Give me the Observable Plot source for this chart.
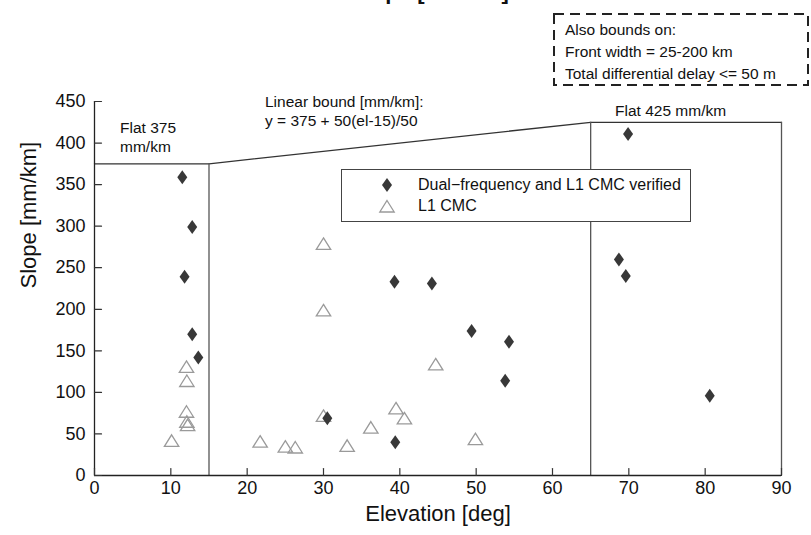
<!DOCTYPE html>
<html><head><meta charset="utf-8">
<script src="https://cdn.jsdelivr.net/npm/d3@7"></script>
<script src="https://cdn.jsdelivr.net/npm/@observablehq/plot@0.6"></script>
<style>
html,body{margin:0;padding:0;background:#fff;}
#wrap{position:relative;width:811px;height:535px;overflow:hidden;font-family:"Liberation Sans",Arial,Helvetica,sans-serif;color:#111;}
#chart{position:absolute;left:0;top:0;}
.ov{position:absolute;white-space:nowrap;}
#title{left:0;width:860px;text-align:center;top:-19px;font-size:22px;font-weight:bold;line-height:22px;}
#bounds{left:553px;top:13px;width:256px;height:73px;}
#bounds svg{position:absolute;left:0;top:0;}
#bounds .t{position:absolute;left:12px;font-size:15.5px;line-height:18px;}
#legend{left:341px;top:169px;width:348px;height:51px;border:1.2px solid #444;background:#fff;}
#legend svg{position:absolute;left:0;top:0;}
#legend .t{position:absolute;left:76px;font-size:16px;line-height:18px;}
.anno{font-size:15.5px;line-height:19px;}
</style></head><body>
<div id="wrap">
  <div id="chart"></div>
  <div class="ov" id="title">Slope [mm/km]</div>
  <div class="ov" id="bounds">
    <svg width="256" height="73"><rect x="1" y="1" width="254" height="71" fill="none" stroke="#222" stroke-width="2" stroke-dasharray="10,6"></rect></svg>
    <div class="t" style="top:8px">Also bounds on:</div>
    <div class="t" style="top:30px">Front width = 25-200 km</div>
    <div class="t" style="top:52px">Total differential delay &lt;= 50 m</div>
  </div>
  <div class="ov anno" style="left:120px;top:118px;">Flat 375<br>mm/km</div>
  <div class="ov anno" style="left:265px;top:92px;">Linear bound [mm/km]:<br>y = 375 + 50(el-15)/50</div>
  <div class="ov anno" style="left:615px;top:101px;">Flat 425 mm/km</div>
  <div class="ov" id="legend">
    <svg width="348" height="51">
      <path d="M45,8 L50,15 L45,22 L40,15 Z" fill="#383838"></path>
      <path d="M45,30.5 L52.2,42 L37.8,42 Z" fill="none" stroke="#9a9a9a" stroke-width="1.3"></path>
    </svg>
    <div class="t" style="top:6px">Dual−frequency and L1 CMC verified</div>
    <div class="t" style="top:27px">L1 CMC</div>
  </div>
</div>
<script>
// Dual-frequency and L1 CMC verified (filled diamonds)
const dualEl    = [11.5, 12.8, 11.8, 12.8, 13.6, 30.5, 39.4, 39.3, 44.2, 49.4, 54.3, 53.8, 69.9, 68.7, 69.6, 80.6];
const dualSlope = [359, 299, 239, 170, 142, 69, 40, 233, 231, 174, 161, 114, 411, 260, 240, 96];
// L1 CMC (open triangles)
const l1El    = [10.1, 12.05, 12.1, 12.05, 12.1, 12.2, 21.7, 25.0, 26.3, 30.0, 30.0, 30.0, 33.1, 36.2, 39.5, 40.6, 44.7, 49.9];
const l1Slope = [42, 131, 114, 77, 65, 61, 41, 35, 34, 279, 199, 72, 36, 58, 81, 69, 134, 44];
// Slope bound (flat 375, linear, flat 425)
const boundEl    = [0, 15, 65, 90];
const boundSlope = [375, 375, 425, 425];
// Axis ticks
const xTicks = [0, 10, 20, 30, 40, 50, 60, 70, 80, 90];
const yTicks = [0, 50, 100, 150, 200, 250, 300, 350, 400, 450];

const dual = dualEl.map((e, i) => ({el: e, slope: dualSlope[i]}));
const l1 = l1El.map((e, i) => ({el: e, slope: l1Slope[i]}));
const bound = boundEl.map((e, i) => ({el: e, slope: boundSlope[i]}));
const verticals = bound.slice(1);

const tickShape = {draw(ctx, l) { ctx.moveTo(0, 0); ctx.lineTo(0, -l); }};
const diamondSym = {draw(ctx) { const w = 5, h = 7; ctx.moveTo(0, -h); ctx.lineTo(w, 0); ctx.lineTo(0, h); ctx.lineTo(-w, 0); ctx.closePath(); }};
const triSym = {draw(ctx) { const w = 7.2, h = 11.5; ctx.moveTo(0, -h / 2); ctx.lineTo(w, h / 2); ctx.lineTo(-w, h / 2); ctx.closePath(); }};

const font = "'Liberation Sans', Arial, Helvetica, sans-serif";
const chart = Plot.plot({
  width: 811, height: 535,
  marginLeft: 94, marginRight: 30, marginTop: 101, marginBottom: 60,
  x: {domain: [0, 90]},
  y: {domain: [0, 450]},
  style: {fontFamily: font, background: "transparent", color: "#111"},
  marks: [
    Plot.line(bound, {x: "el", y: "slope", stroke: "#333", strokeWidth: 1.3}),
    Plot.ruleX(verticals, {x: "el", y1: 0, y2: "slope", stroke: "#555", strokeWidth: 1.3}),
    Plot.ruleX([0], {y1: 0, y2: 450, stroke: "#222", strokeWidth: 1.3}),
    Plot.ruleY([0], {x1: 0, x2: 90, stroke: "#222", strokeWidth: 1.3}),
    Plot.vector(xTicks, {x: d => d, y: 0, length: 7, rotate: 0, anchor: "start", shape: tickShape, stroke: "#333", strokeWidth: 1.2}),
    Plot.vector(yTicks, {x: 0, y: d => d, length: 7, rotate: 90, anchor: "start", shape: tickShape, stroke: "#333", strokeWidth: 1.2}),
    Plot.axisX(xTicks, {tickSize: 0, tickPadding: 6, fontSize: 18, label: null}),
    Plot.axisY(yTicks, {tickSize: 0, tickPadding: 9, fontSize: 18, label: null}),
    Plot.text(["Elevation [deg]"], {frameAnchor: "bottom", dy: 45, fontSize: 22}),
    Plot.text(["Slope [mm/km]"], {frameAnchor: "left", rotate: -90, dx: -66, fontSize: 22}),
    Plot.dot(l1, {x: "el", y: "slope", symbol: triSym, r: 7, fill: "none", stroke: "#9a9a9a", strokeWidth: 1.3}),
    Plot.dot(dual, {x: "el", y: "slope", symbol: diamondSym, r: 6, fill: "#383838", stroke: "none"})
  ]
});
document.getElementById("chart").appendChild(chart);
</script>
</body></html>
